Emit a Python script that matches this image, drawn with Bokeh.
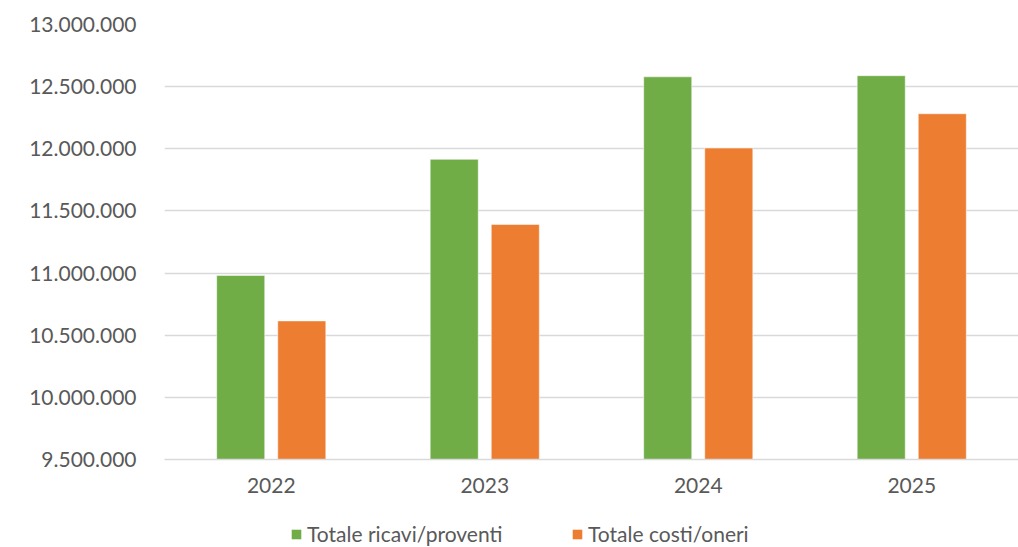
from bokeh.plotting import figure
from bokeh.layouts import column
from bokeh.models import FactorRange, Range1d, Legend, LegendItem, CustomJSTickFormatter, FixedTicker, ColumnDataSource
from bokeh.transform import dodge
from bokeh.embed import file_html
from bokeh.resources import INLINE

years = ["2022", "2023", "2024", "2025"]
ricavi = [10981000, 11915000, 12579000, 12588000]
costi = [10615000, 11391000, 12006000, 12282000]
y_ticks = [9500000, 10000000, 10500000, 11000000, 11500000, 12000000, 12500000, 13000000]
series_names = ["Totale ricavi/proventi", "Totale costi/oneri"]

GREEN = "#70AD47"
ORANGE = "#ED7D31"
TEXT = "#595959"
GRID = "#D9D9D9"
FONT = "Lato"
FS = "21px"

src = ColumnDataSource(dict(year=years, ricavi=ricavi, costi=costi))

p = figure(width=1018, height=515, output_backend="svg", toolbar_location=None,
           x_range=FactorRange(factors=years, range_padding=0),
           y_range=Range1d(y_ticks[0], y_ticks[-1]),
           min_border_left=164, min_border_right=0, min_border_top=24, min_border_bottom=56)
p.outline_line_color = None
p.background_fill_color = "white"
p.border_fill_color = "white"

p.vbar(x=dodge("year", -0.143, range=p.x_range), top="ricavi", bottom=y_ticks[0], width=0.225,
       source=src, fill_color=GREEN, line_color="white", line_width=1, line_alpha=0.5)
p.vbar(x=dodge("year", 0.143, range=p.x_range), top="costi", bottom=y_ticks[0], width=0.225,
       source=src, fill_color=ORANGE, line_color="white", line_width=1, line_alpha=0.5)

p.xgrid.grid_line_color = None
p.ygrid.grid_line_color = GRID
p.ygrid.grid_line_width = 1.5

p.yaxis.ticker = FixedTicker(ticks=y_ticks)
p.yaxis.formatter = CustomJSTickFormatter(code="return tick.toFixed(0).replace(/\\B(?=(\\d{3})+(?!\\d))/g, '.');")
p.yaxis.axis_line_color = None
p.yaxis.major_tick_line_color = None
p.yaxis.minor_tick_line_color = None
p.yaxis.major_label_standoff = 22
p.yaxis.major_label_text_font = FONT
p.yaxis.major_label_text_font_size = FS
p.yaxis.major_label_text_color = TEXT

p.xaxis.axis_line_color = GRID
p.xaxis.axis_line_width = 1.5
p.xaxis.major_tick_line_color = None
p.xaxis.minor_tick_line_color = None
p.xaxis.major_label_standoff = 12
p.xaxis.major_label_text_font = FONT
p.xaxis.major_label_text_font_size = FS
p.xaxis.major_label_text_color = TEXT

# legend strip below the chart
lg = figure(width=1018, height=32, output_backend="svg", toolbar_location=None,
            x_range=Range1d(0, 1), y_range=Range1d(0, 1), x_axis_type=None, y_axis_type=None,
            min_border_left=0, min_border_right=0, min_border_top=0, min_border_bottom=0)
lg.outline_line_color = None
lg.grid.grid_line_color = None
lg.border_fill_color = "white"
# swatch-only renderers, kept outside the visible range
swatch = ColumnDataSource(dict(x=[-5.0], top=[-5.0]))
g1 = lg.vbar(x="x", top="top", bottom=-6.0, width=0.1, source=swatch, fill_color=GREEN, line_color=None)
g2 = lg.vbar(x="x", top="top", bottom=-6.0, width=0.1, source=swatch, fill_color=ORANGE, line_color=None)
legend = Legend(items=[LegendItem(label=series_names[0], renderers=[g1]),
                       LegendItem(label=series_names[1], renderers=[g2])],
                orientation="horizontal", location=(126, 1),
                glyph_width=12, glyph_height=12, label_standoff=5, spacing=41, label_width=223,
                padding=0, margin=0, border_line_color=None, background_fill_alpha=0,
                label_text_font=FONT, label_text_font_size=FS, label_text_color=TEXT)
lg.add_layout(legend, "center")

open("out.html", "w").write(file_html(column(p, lg, spacing=0), INLINE))
